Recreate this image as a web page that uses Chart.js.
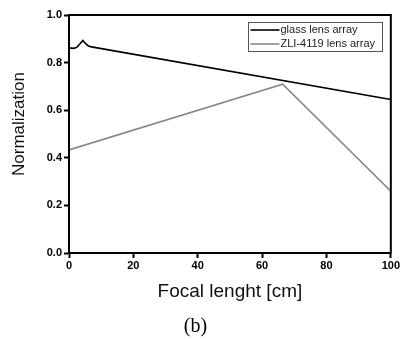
<!DOCTYPE html>
<html>
<head>
<meta charset="utf-8">
<script src="https://cdn.jsdelivr.net/npm/chart.js@4/dist/chart.umd.min.js"></script>
<style>
  html, body { margin: 0; padding: 0; background: #fff; }
  #wrap { width: 401px; height: 339px; }
</style>
</head>
<body>
<div id="wrap"><canvas id="lens-chart"></canvas></div>
<script>
// focal length [cm] vs normalized value
var glassX = [0, 1.5, 2.5, 3.5, 4.3, 5, 6, 7, 100];
var glassY = [0.862, 0.860, 0.865, 0.880, 0.893, 0.882, 0.870, 0.866, 0.645];
var zliX = [0, 66.4, 100];
var zliY = [0.433, 0.709, 0.26];
var seriesNames = ['glass lens array', 'ZLI-4119 lens array'];
var xTicks = [0, 20, 40, 60, 80, 100];
var yTicks = [0, 0.2, 0.4, 0.6, 0.8, 1.0];
var yTitle = 'Normalization';

function toPoints(xs, ys) {
  return xs.map(function (x, i) { return { x: x, y: ys[i] }; });
}

var tickFont = { family: '"Liberation Sans", Arial, sans-serif', size: 11, weight: 'bold' };

// box around the plot, legend inside top right, y title
var framePlugin = {
  id: 'frame',
  afterDraw: function (chart) {
    var ctx = chart.ctx, a = chart.chartArea;
    ctx.save();
    ctx.strokeStyle = '#000';
    ctx.lineWidth = 2;
    ctx.strokeRect(a.left, a.top, a.right - a.left, a.bottom - a.top);

    var bx = 248.5, by = 22.5, bw = 134, bh = 29;
    ctx.fillStyle = '#fff';
    ctx.fillRect(bx, by, bw, bh);
    ctx.lineWidth = 1;
    ctx.strokeStyle = '#555';
    ctx.strokeRect(bx, by, bw, bh);
    ctx.font = '11px "Liberation Sans", Arial, sans-serif';
    ctx.textBaseline = 'middle';
    chart.data.datasets.forEach(function (ds, i) {
      var ly = by + 7.5 + i * 14;
      ctx.strokeStyle = ds.borderColor;
      ctx.lineWidth = ds.borderWidth;
      ctx.beginPath();
      ctx.moveTo(bx + 2, ly);
      ctx.lineTo(bx + 31, ly);
      ctx.stroke();
      ctx.fillStyle = '#222';
      ctx.fillText(ds.label, bx + 32, ly);
    });

    ctx.translate(24, 124);
    ctx.rotate(-Math.PI / 2);
    ctx.font = '17px "Liberation Sans", Arial, sans-serif';
    ctx.textAlign = 'center';
    ctx.textBaseline = 'alphabetic';
    ctx.fillStyle = '#111';
    ctx.fillText(yTitle, 0, 0);
    ctx.restore();
  }
};

var chart = new Chart(document.getElementById('lens-chart').getContext('2d'), {
  type: 'scatter',
  data: {
    datasets: [
      {
        label: seriesNames[0],
        data: toPoints(glassX, glassY),
        showLine: true,
        borderColor: '#000',
        borderWidth: 1.6,
        pointRadius: 0,
        tension: 0
      },
      {
        label: seriesNames[1],
        data: toPoints(zliX, zliY),
        showLine: true,
        borderColor: '#888',
        borderWidth: 1.6,
        pointRadius: 0,
        tension: 0
      }
    ]
  },
  options: {
    responsive: true,
    maintainAspectRatio: false,
    animation: false,
    layout: { padding: { top: 15, right: 10, left: 0, bottom: 0 } },
    plugins: {
      legend: { display: false },
      tooltip: { enabled: false },
      title: {
        display: true,
        position: 'bottom',
        text: '(b)',
        color: '#000',
        font: { family: '"Liberation Serif", "Times New Roman", serif', size: 20, weight: 'normal' },
        padding: { top: 0, bottom: 0 }
      }
    },
    scales: {
      x: {
        type: 'linear',
        min: 0,
        max: 100,
        afterBuildTicks: function (s) { s.ticks = xTicks.map(function (v) { return { value: v }; }); },
        afterFit: function (s) { s.height = 62; },
        ticks: { color: '#000', font: tickFont, padding: 1, maxRotation: 0 },
        grid: { drawOnChartArea: false, drawTicks: true, tickLength: 5, tickColor: '#000', tickWidth: 2 },
        border: { display: true, color: '#000', width: 2 },
        title: {
          display: true,
          text: 'Focal lenght [cm]',
          color: '#111',
          font: { family: '"Liberation Sans", Arial, sans-serif', size: 19 },
          padding: { top: 0, bottom: 12 }
        }
      },
      y: {
        type: 'linear',
        min: 0,
        max: 1,
        afterBuildTicks: function (s) { s.ticks = yTicks.map(function (v) { return { value: v }; }); },
        afterFit: function (s) { s.width = 69; },
        ticks: {
          color: '#000',
          font: tickFont,
          padding: 2,
          callback: function (v) { return v.toFixed(1); }
        },
        grid: { drawOnChartArea: false, drawTicks: true, tickLength: 5, tickColor: '#000', tickWidth: 2 },
        border: { display: true, color: '#000', width: 2 }
      }
    }
  },
  plugins: [framePlugin]
});
</script>
</body>
</html>
